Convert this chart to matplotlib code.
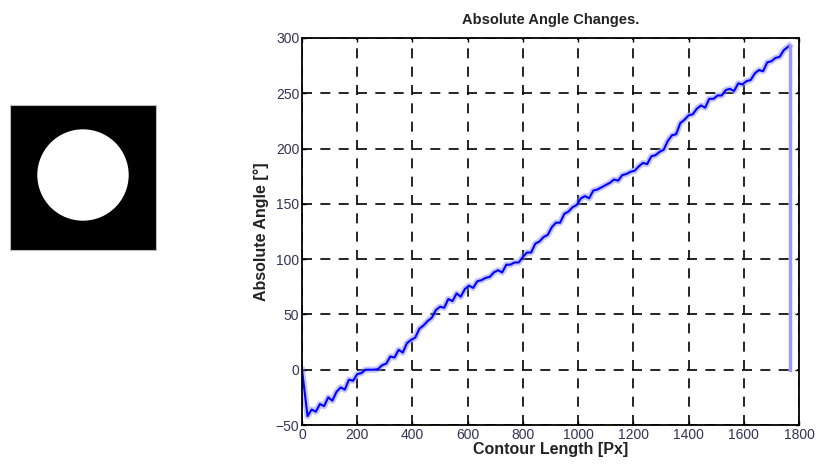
import matplotlib
matplotlib.use("Agg")
import matplotlib.pyplot as plt
from matplotlib.patches import Circle

plt.rcParams['font.family'] = ['Liberation Sans', 'DejaVu Sans']

# ---- data ----
contour_length = [0] + list(range(20, 1761, 15)) + [1765]
absolute_angle = [
    0,
    -42, -36, -38, -31, -33, -25, -28, -20, -16, -18, -9, -10, -4,
    -3, 0, 0, 0, 0.5,
    4, 5.5, 12, 11, 18, 15.5, 24, 27,
    29, 37, 40, 44, 47,
    54, 57, 56, 64, 62, 69, 66, 73,
    76, 74, 80, 81, 83, 84, 88, 90, 88, 95, 95, 97, 97, 102,
    106, 106, 114, 116, 120, 122, 129, 133, 133, 141, 143, 147, 149,
    155, 157, 155, 162, 163, 165, 167,
    169, 172, 171, 176, 177, 179,
    180, 184, 187, 186, 193, 194, 197,
    199, 207, 212, 213, 223, 226, 230,
    231, 236, 239, 237, 245, 245,
    248, 248, 253, 254, 252, 259, 258,
    261, 262, 268, 271, 270, 278, 279, 282, 283, 289, 292,
    293,
]
closing_x = [1768, 1768]
closing_y = [293, 0]

x_ticks = [0, 200, 400, 600, 800, 1000, 1200, 1400, 1600, 1800]
y_ticks = [-50, 0, 50, 100, 150, 200, 250, 300]

fig = plt.figure(figsize=(8.17, 4.65), dpi=100)

# ---- left: binary image of a circle ----
axi = fig.add_axes([10/817, 1 - 250/465, 146/817, 145/465])
axi.set_facecolor('black')
axi.add_patch(Circle((73, 75), 45, color='white'))
axi.set_xlim(0, 146)
axi.set_ylim(0, 145)
axi.set_xticks([])
axi.set_yticks([])
for s in axi.spines.values():
    s.set_color('#bbbbbb')
    s.set_linewidth(0.8)

# ---- right: chart ----
ax = fig.add_axes([302/817, 1 - 425/465, 497/817, 387/465])
ax.plot(contour_length, absolute_angle, color=(0.5, 0.5, 1.0), lw=4.5, alpha=0.45,
        solid_joinstyle='round')
ax.plot(contour_length, absolute_angle, color=(0.0, 0.0, 1.0), lw=1.5)
ax.plot(closing_x, closing_y, color=(0.6, 0.6, 1.0), lw=2.5)

ax.set_xlim(0, 1800)
ax.set_ylim(-50, 300)
ax.set_xticks(x_ticks)
ax.set_yticks(y_ticks)
ax.tick_params(direction='in', length=3, width=1, top=True, right=True,
               labelsize=10, labelcolor='#333355', pad=2)
ax.grid(True, color='black', linestyle=(0, (6, 5)), linewidth=1.2)
for s in ax.spines.values():
    s.set_linewidth(1.3)
    s.set_color('black')

ax.set_title('Absolute Angle Changes.', fontsize=10.5, fontweight='bold',
             color='#222222', pad=10)
ax.set_xlabel('Contour Length [Px]', fontsize=11.5, fontweight='bold',
              color='#222222', labelpad=0)
ax.set_ylabel('Absolute Angle [°]', fontsize=11.5, fontweight='bold',
              color='#222222', labelpad=5)

fig.savefig('out.png', dpi=100)
